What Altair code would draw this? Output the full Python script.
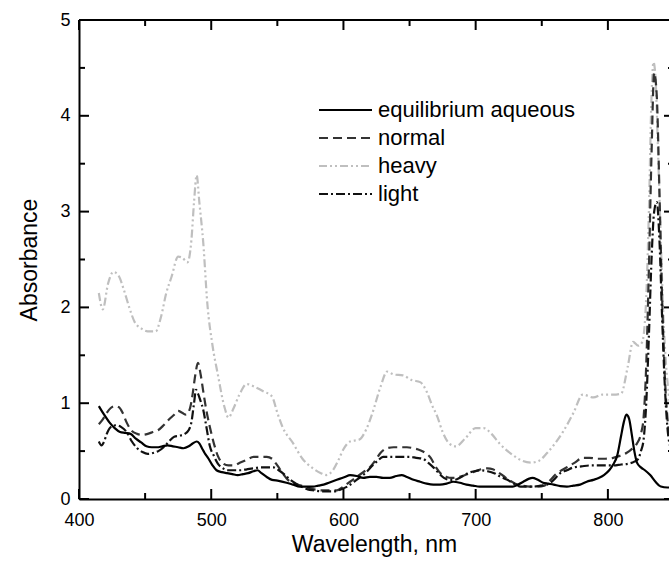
import altair as alt
import pandas as pd

# ---------------- data ----------------
series_names = ["equilibrium aqueous", "normal", "heavy", "light"]

eq_wl = [415, 419, 423, 427, 431, 435, 439, 443, 447, 451, 455, 459, 463, 467, 471, 475, 479, 483, 486, 489,
         491, 493, 495, 498, 501, 504, 508, 512, 516, 520, 524, 528, 532, 535, 538, 542, 546, 551, 557, 562,
         567, 572, 577, 581, 585, 589, 593, 597, 601, 605, 610, 615, 620, 625, 630, 635, 640, 644, 648, 653,
         658, 663, 668, 673, 678, 683, 688, 693, 698, 703, 709, 716, 722, 728, 732, 736, 740, 743, 747, 751,
         755, 759, 764, 769, 774, 779, 784, 789, 793, 797, 801, 804, 807, 810, 812, 814, 816, 818, 820, 822,
         825, 828, 832, 836, 840, 845, 850]
eq_abs = [0.97, 0.88, 0.80, 0.74, 0.70, 0.69, 0.68, 0.63, 0.59, 0.55, 0.54, 0.54, 0.55, 0.56, 0.55, 0.54, 0.53, 0.55, 0.58, 0.60,
          0.58, 0.53, 0.48, 0.42, 0.35, 0.30, 0.28, 0.27, 0.26, 0.25, 0.26, 0.27, 0.29, 0.30, 0.27, 0.23, 0.20, 0.19, 0.17, 0.15,
          0.13, 0.13, 0.13, 0.14, 0.15, 0.17, 0.19, 0.21, 0.23, 0.25, 0.24, 0.22, 0.23, 0.23, 0.22, 0.22, 0.24, 0.25, 0.23, 0.20,
          0.18, 0.16, 0.15, 0.15, 0.16, 0.18, 0.17, 0.15, 0.14, 0.13, 0.13, 0.13, 0.13, 0.13, 0.15, 0.18, 0.21, 0.22, 0.20, 0.17,
          0.16, 0.15, 0.135, 0.13, 0.14, 0.15, 0.18, 0.20, 0.22, 0.25, 0.30, 0.36, 0.45, 0.66, 0.80, 0.88, 0.84, 0.68, 0.50, 0.38,
          0.33, 0.30, 0.25, 0.18, 0.13, 0.12, 0.12]

normal_wl = [415, 418, 421, 424, 427, 430, 433, 436, 440, 444, 448, 452, 456, 460, 464, 468, 472, 475, 478, 481,
             484, 486, 488, 490, 492, 494, 496, 499, 502, 505, 509, 513, 517, 522, 527, 532, 537, 542, 546, 550,
             554, 558, 563, 568, 573, 578, 584, 590, 595, 599, 603, 607, 611, 615, 620, 624, 628, 633, 638, 643,
             648, 653, 658, 662, 666, 670, 674, 678, 682, 687, 692, 698, 704, 709, 713, 717, 721, 725, 730, 735,
             741, 747, 752, 756, 760, 765, 770, 775, 781, 786, 792, 798, 804, 809, 814, 818, 822, 825, 827, 829,
             831, 833, 835, 837, 839, 841, 843, 845, 848, 850]
normal_abs = [0.78, 0.83, 0.90, 0.95, 0.97, 0.96, 0.90, 0.80, 0.71, 0.68, 0.67, 0.68, 0.70, 0.72, 0.77, 0.83, 0.88, 0.92, 0.90, 0.88,
              0.95, 1.10, 1.30, 1.42, 1.30, 1.12, 0.95, 0.75, 0.58, 0.45, 0.37, 0.35, 0.35, 0.38, 0.41, 0.44, 0.44, 0.44, 0.42, 0.35,
              0.27, 0.20, 0.16, 0.14, 0.12, 0.10, 0.09, 0.09, 0.09, 0.12, 0.16, 0.20, 0.24, 0.28, 0.33, 0.40, 0.48, 0.53, 0.54, 0.54,
              0.54, 0.53, 0.51, 0.48, 0.43, 0.33, 0.26, 0.23, 0.22, 0.23, 0.25, 0.28, 0.31, 0.32, 0.31, 0.28, 0.24, 0.20, 0.16, 0.14,
              0.13, 0.13, 0.14, 0.19, 0.25, 0.30, 0.34, 0.38, 0.43, 0.43, 0.42, 0.42, 0.43, 0.45, 0.48, 0.52, 0.58, 0.68, 0.85, 1.40,
              2.40, 3.60, 4.45, 4.20, 3.20, 2.10, 1.30, 0.85, 0.55, 0.45]

heavy_wl = [415, 418, 422, 426, 430, 434, 438, 442, 447, 452, 458, 462, 466, 470, 475, 478, 482, 485, 487, 489,
            491, 494, 497, 501, 505, 510, 513, 517, 521, 527, 533, 540, 546, 550, 554, 562, 569, 576, 583, 587,
            592, 596, 600, 605, 612, 617, 622, 628, 633, 638, 645, 652, 658, 663, 667, 671, 675, 680, 685, 692,
            700, 706, 712, 718, 728, 735, 742, 748, 754, 760, 766, 774, 781, 789, 796, 804, 810, 815, 819, 823,
            826, 829, 831, 833, 834.5, 836, 838, 840, 842, 844, 846, 848, 850]
heavy_abs = [2.15, 1.98, 2.25, 2.37, 2.33, 2.18, 2.00, 1.85, 1.78, 1.75, 1.75, 1.90, 2.15, 2.32, 2.53, 2.52, 2.47, 2.70, 3.10, 3.38,
             3.10, 2.67, 2.05, 1.60, 1.30, 0.96, 0.85, 0.95, 1.08, 1.20, 1.17, 1.12, 1.07, 0.90, 0.75, 0.58, 0.42, 0.33, 0.27, 0.25,
             0.30, 0.40, 0.52, 0.60, 0.62, 0.72, 0.90, 1.17, 1.33, 1.30, 1.29, 1.24, 1.22, 1.12, 0.98, 0.86, 0.70, 0.58, 0.55, 0.63,
             0.74, 0.74, 0.68, 0.58, 0.46, 0.40, 0.38, 0.40, 0.48, 0.58, 0.70, 0.90, 1.09, 1.06, 1.09, 1.09, 1.10, 1.38, 1.64, 1.60,
             1.64, 2.10, 3.00, 4.20, 4.56, 4.40, 3.60, 2.70, 1.90, 1.40, 1.10, 0.90, 0.80]

light_wl = [415, 417, 419, 421, 424, 428, 432, 436, 440, 444, 448, 452, 456, 460, 464, 468, 472, 476, 480, 483,
            485, 487, 488.5, 490, 492, 494, 496, 499, 502, 505, 509, 513, 518, 522, 527, 532, 537, 542, 547, 551,
            555, 559, 563, 568, 573, 578, 583, 588, 593, 598, 603, 608, 613, 618, 622, 626, 630, 635, 640, 645,
            650, 655, 660, 664, 668, 672, 676, 680, 684, 689, 694, 699, 704, 709, 714, 719, 724, 729, 734, 739,
            744, 749, 754, 759, 764, 769, 774, 780, 786, 792, 798, 804, 810, 816, 820, 823, 825, 827, 829, 831,
            833, 835, 837, 839, 841, 843, 845, 848, 850]
light_abs = [0.60, 0.56, 0.60, 0.68, 0.75, 0.77, 0.75, 0.70, 0.60, 0.53, 0.49, 0.47, 0.48, 0.50, 0.54, 0.60, 0.65, 0.66, 0.68, 0.72,
             0.80, 1.00, 1.14, 1.10, 1.02, 0.93, 0.78, 0.55, 0.45, 0.37, 0.32, 0.30, 0.30, 0.30, 0.31, 0.32, 0.33, 0.33, 0.33, 0.30,
             0.26, 0.21, 0.17, 0.13, 0.10, 0.09, 0.08, 0.08, 0.08, 0.10, 0.13, 0.18, 0.23, 0.29, 0.35, 0.40, 0.44, 0.44, 0.44, 0.44,
             0.44, 0.43, 0.42, 0.38, 0.33, 0.27, 0.22, 0.20, 0.20, 0.23, 0.27, 0.29, 0.30, 0.29, 0.27, 0.23, 0.20, 0.16, 0.13, 0.13,
             0.13, 0.14, 0.15, 0.20, 0.27, 0.30, 0.33, 0.34, 0.35, 0.35, 0.35, 0.35, 0.36, 0.37, 0.39, 0.42, 0.50, 0.62, 1.00, 1.70,
             2.50, 3.00, 3.10, 2.70, 1.90, 1.20, 0.75, 0.50, 0.42]

x_major = [400, 500, 600, 700, 800]
x_minor = [450, 550, 650, 750]
y_major = [0, 1, 2, 3, 4, 5]
y_minor = [0.5, 1.5, 2.5, 3.5, 4.5]

# ---------------- layout / style ----------------
FONT = "Liberation Sans"
W, H = 590, 479            # visible plot width (frame continues just past the window)
FULL_W = 595               # full frame width (400..850 nm)
X_MAX = 400 + W * 450 / FULL_W

x_scale = alt.Scale(domain=[400, X_MAX], nice=False, zero=False)
y_scale = alt.Scale(domain=[0, 5], nice=False, zero=False)

x_axis = alt.Axis(values=x_major, ticks=False, grid=False, domain=True, domainColor="black",
                  domainWidth=2, labelFontSize=18, labelPadding=12, labelColor="black",
                  labelFont=FONT, titleFont=FONT, titleFontSize=23, titleFontWeight="normal",
                  titleColor="black", titlePadding=4, labelFlush=False)
y_axis = alt.Axis(values=y_major, format="d", ticks=False, grid=False, domain=True, domainColor="black",
                  domainWidth=2, labelFontSize=18, labelPadding=9, labelColor="black",
                  labelFont=FONT, titleFont=FONT, titleFontSize=23, titleFontWeight="normal",
                  titleColor="black", titlePadding=18, labelFlush=False)

X_TITLE = "Wavelength, nm"
Y_TITLE = "Absorbance"

styles = {
    "equilibrium aqueous": dict(color="#000000", dash=None),
    "normal": dict(color="#333333", dash=[9, 5]),
    "heavy": dict(color="#bfbfbf", dash=[8, 3, 2, 3, 2, 3]),
    "light": dict(color="#111111", dash=[9, 3, 2, 3]),
}

data = {
    "equilibrium aqueous": (eq_wl, eq_abs),
    "normal": (normal_wl, normal_abs),
    "heavy": (heavy_wl, heavy_abs),
    "light": (light_wl, light_abs),
}


def xenc(field):
    return alt.X(field, type="quantitative", scale=x_scale, axis=x_axis, title=X_TITLE)


def yenc(field):
    return alt.Y(field, type="quantitative", scale=y_scale, axis=y_axis, title=Y_TITLE)


layers = []
for name in ["heavy", "normal", "light", "equilibrium aqueous"]:
    wl, ab = data[name]
    df = pd.DataFrame({"wl": wl, "abs": ab})
    st = styles[name]
    kw = dict(color=st["color"], strokeWidth=2.2, clip=True, interpolate="monotone")
    if st["dash"]:
        kw["strokeDash"] = st["dash"]
    layers.append(alt.Chart(df).mark_line(**kw).encode(x=xenc("wl"), y=yenc("abs")))

# inward ticks (bottom, top, left, right)
xt_major = pd.DataFrame({"wl": x_major})
xt_minor = pd.DataFrame({"wl": x_minor})
yt_major = pd.DataFrame({"abs": y_major})
yt_minor = pd.DataFrame({"abs": y_minor})
tick_kw = dict(color="black", strokeWidth=2, clip=False)
for df, ln in [(xt_major, 10), (xt_minor, 6)]:
    layers.append(alt.Chart(df).mark_rule(**tick_kw).encode(
        x=xenc("wl"), y=alt.value(H - ln), y2=alt.value(H)))
    layers.append(alt.Chart(df).mark_rule(**tick_kw).encode(
        x=xenc("wl"), y=alt.value(0), y2=alt.value(ln)))
for df, ln in [(yt_major, 10), (yt_minor, 6)]:
    layers.append(alt.Chart(df).mark_rule(**tick_kw).encode(
        y=yenc("abs"), x=alt.value(0), x2=alt.value(ln)))
    layers.append(alt.Chart(df).mark_rule(**tick_kw).encode(
        y=yenc("abs"), x=alt.value(FULL_W - ln), x2=alt.value(FULL_W)))

# top frame line
layers.append(alt.Chart(pd.DataFrame({"k": [0]})).mark_rule(color="black", strokeWidth=2).encode(
    x=alt.value(0), x2=alt.value(FULL_W), y=alt.value(0)))

# manual legend
LEG_X0, LEG_X1, LEG_TX, LEG_Y0, LEG_DY = 240, 293, 299, 90, 28
for i, name in enumerate(series_names):
    st = styles[name]
    kw = dict(color=st["color"], strokeWidth=2.2)
    if st["dash"]:
        kw["strokeDash"] = st["dash"]
    ldf = pd.DataFrame({"label": [name]})
    layers.append(alt.Chart(ldf).mark_rule(**kw).encode(
        x=alt.value(LEG_X0), x2=alt.value(LEG_X1), y=alt.value(LEG_Y0 + i * LEG_DY)))
    layers.append(alt.Chart(ldf).mark_text(align="left", baseline="middle", font=FONT,
                                           fontSize=22, color="black").encode(
        text="label:N", x=alt.value(LEG_TX), y=alt.value(LEG_Y0 + i * LEG_DY)))

chart = alt.layer(*layers).properties(
    width=W, height=H,
    autosize=alt.AutoSizeParams(type="none"),
    padding={"left": 79, "top": 20, "right": 0, "bottom": 66},
).configure_view(stroke=None).configure(background="white")

chart.save("out.html", embed_options={"renderer": "svg", "actions": False})
